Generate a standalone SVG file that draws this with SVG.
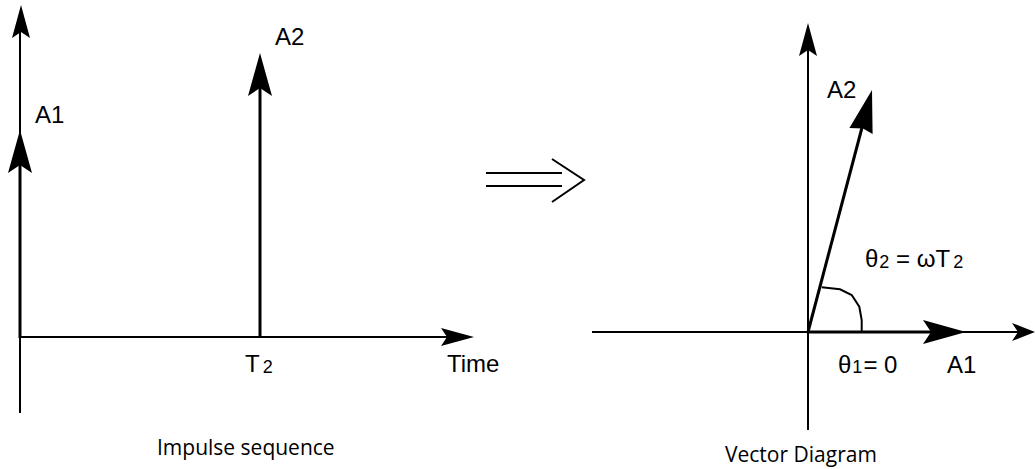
<svg xmlns="http://www.w3.org/2000/svg" width="1035" height="469" viewBox="0 0 1035 469">
<style>
.ax{stroke:#000;stroke-width:2;fill:none}
.vec{stroke:#000;stroke-width:3;fill:none}
.hd{fill:#000;stroke:none}
.lb{font-family:"Liberation Sans",Arial,sans-serif;font-size:24px;fill:#000}
.sub{font-size:18px}
.cap{font-family:"Open Sans","Noto Sans",sans-serif;font-size:21px;fill:#000}
</style>
<rect width="1035" height="469" fill="#fff"/>
<g id="connectors">
  <line class="ax" x1="20" y1="413" x2="20" y2="20"/>
  <path class="hd" d="M21,5 L30,38 L21,32 L12,38 Z"/>
  <line class="ax" x1="20" y1="337" x2="455" y2="337"/>
  <path class="hd" d="M474,337 L441,346 L447,337 L441,328 Z"/>
  <line class="vec" x1="20" y1="338" x2="20" y2="160"/>
  <path class="hd" d="M20,130 L32,173 L20,165 L8,173 Z"/>
  <line class="vec" x1="260" y1="338" x2="260" y2="85"/>
  <path class="hd" d="M260,53 L272,96 L260,88 L248,96 Z"/>
  <line class="ax" x1="486" y1="173" x2="562" y2="173" stroke-width="1.5"/>
  <line class="ax" x1="486" y1="186" x2="562" y2="186" stroke-width="1.5"/>
  <polyline class="ax" points="552,159 584,180 552,202" stroke-width="1.5"/>
  <line class="ax" x1="808" y1="430" x2="808" y2="40"/>
  <path class="hd" d="M808,23 L817,56 L808,50 L799,56 Z"/>
  <line class="ax" x1="592" y1="332" x2="1020" y2="332"/>
  <path class="hd" d="M1035,332 L1012,341 L1018,332 L1012,323 Z"/>
  <line class="vec" x1="808" y1="332" x2="940" y2="332"/>
  <path class="hd" d="M966,332 L923,344 L931,332 L923,320 Z"/>
  <line class="vec" x1="808" y1="332" x2="864" y2="120"/>
  <path class="hd" d="M872,90 L872.6,134 L863,128.5 L849.4,127.9 Z"/>
  <polyline class="ax" stroke-width="1.5" points="821.7,287.3 840,289.3 851.7,295 859.3,306.7 861.7,320 861.7,331"/>
</g>
<g id="labels">
  <text class="lb" x="35" y="123">A1</text>
  <text class="lb" x="275" y="45">A2</text>
  <text class="lb" x="245" y="372">T<tspan class="sub" dx="3" dy="1">2</tspan></text>
  <text class="lb" x="447" y="372">Time</text>
  <text class="cap" x="157" y="455">Impulse sequence</text>
  <text class="lb" x="827" y="98">A2</text>
  <text class="lb" x="865" y="267">θ<tspan class="sub" dx="1" dy="1">2</tspan><tspan dy="-1"> = ωT</tspan><tspan class="sub" dx="3" dy="1">2</tspan></text>
  <text class="lb" x="838" y="373">θ<tspan class="sub" dx="1">1</tspan><tspan dx="1">= 0</tspan></text>
  <text class="lb" x="947" y="373">A1</text>
  <text class="cap" x="725" y="462">Vector Diagram</text>
</g>
</svg>
